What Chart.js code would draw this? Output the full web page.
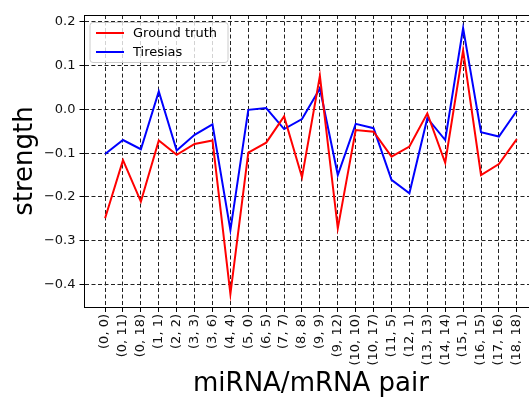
<!DOCTYPE html>
<html>
<head>
<meta charset="utf-8">
<script src="https://cdn.jsdelivr.net/npm/chart.js@4/dist/chart.umd.min.js"></script>
<style>
  html, body { margin: 0; padding: 0; background: #fff; overflow: hidden; }
  #wrap { width: 529px; height: 401px; position: relative; overflow: hidden; }
  #inner { width: 545px; height: 401px; position: absolute; left: 0; top: 0; }
</style>
</head>
<body>
<div id="wrap"><div id="inner"><canvas id="lineChart"></canvas></div></div>
<script>
const pairs = ['(0, 0)', '(0, 11)', '(0, 18)', '(1, 1)', '(2, 2)', '(3, 3)', '(3, 6)', '(4, 4)',
  '(5, 0)', '(6, 5)', '(7, 7)', '(8, 8)', '(9, 9)', '(9, 12)', '(10, 10)', '(10, 17)',
  '(11, 5)', '(12, 1)', '(13, 13)', '(14, 14)', '(15, 1)', '(16, 15)', '(17, 16)', '(18, 18)'];

const groundTruth = [-0.249, -0.116, -0.211, -0.071, -0.104, -0.079, -0.071, -0.422,
  -0.099, -0.076, -0.016, -0.155, 0.077, -0.272, -0.047, -0.051,
  -0.108, -0.085, -0.009, -0.122, 0.135, -0.150, -0.125, -0.068];

const tiresias = [-0.102, -0.070, -0.091, 0.041, -0.094, -0.058, -0.034, -0.276,
  -0.001, 0.003, -0.045, -0.022, 0.048, -0.150, -0.033, -0.043,
  -0.161, -0.192, -0.020, -0.070, 0.186, -0.052, -0.062, -0.003];

const yTicks = [-0.4, -0.3, -0.2, -0.1, 0.0, 0.1, 0.2];

const FONT = "'DejaVu Sans', sans-serif";

function toPoints(values) {
  return values.map((v, i) => ({ x: i, y: v }));
}

function fmtTick(v) {
  return (v < 0 ? '\u2212' : '') + Math.abs(v).toFixed(1);
}

// top spine, matplotlib style
const topSpine = {
  id: 'topSpine',
  afterDraw(chart) {
    const { ctx, chartArea } = chart;
    ctx.save();
    ctx.strokeStyle = '#000';
    ctx.lineWidth = 1;
    ctx.beginPath();
    ctx.moveTo(chartArea.left, chartArea.top + 0.5);
    ctx.lineTo(chartArea.right, chartArea.top + 0.5);
    ctx.stroke();
    ctx.restore();
  }
};

// legend box inside the plot, upper left
const innerLegend = {
  id: 'innerLegend',
  afterDraw(chart) {
    const { ctx, chartArea } = chart;
    const x = chartArea.left + 5.5;
    const y = chartArea.top + 7.5;
    const w = 138;
    const h = 40;
    ctx.save();
    ctx.fillStyle = 'rgba(255,255,255,0.8)';
    ctx.strokeStyle = '#ccc';
    ctx.lineWidth = 1;
    ctx.beginPath();
    ctx.roundRect(x, y, w, h, 3);
    ctx.fill();
    ctx.stroke();

    ctx.font = '13px ' + FONT;
    ctx.textBaseline = 'middle';
    chart.data.datasets.forEach((ds, i) => {
      const rowY = y + 10.5 + i * 19;
      ctx.strokeStyle = ds.borderColor;
      ctx.lineWidth = 2;
      ctx.beginPath();
      ctx.moveTo(x + 6, rowY);
      ctx.lineTo(x + 34, rowY);
      ctx.stroke();
      ctx.fillStyle = '#000';
      ctx.fillText(ds.label, x + 43, rowY + 0.5);
    });
    ctx.restore();
  }
};

const ctx = document.getElementById('lineChart').getContext('2d');

new Chart(ctx, {
  type: 'line',
  data: {
    datasets: [
      {
        label: 'Ground truth',
        data: toPoints(groundTruth),
        borderColor: '#ff0000',
        borderWidth: 2,
        pointRadius: 0,
        tension: 0,
        fill: false
      },
      {
        label: 'Tiresias',
        data: toPoints(tiresias),
        borderColor: '#0000ff',
        borderWidth: 2,
        pointRadius: 0,
        tension: 0,
        fill: false
      }
    ]
  },
  options: {
    responsive: true,
    maintainAspectRatio: false,
    animation: false,
    layout: { padding: { top: 15, left: 0, right: 7.6, bottom: 0 } },
    plugins: {
      legend: { display: false },
      tooltip: { enabled: false }
    },
    scales: {
      x: {
        type: 'linear',
        min: -1.15,
        max: 24.15,
        afterBuildTicks: axis => { axis.ticks = pairs.map((_, i) => ({ value: i })); },
        afterFit: scale => {
          scale.height = 94;
          scale.paddingLeft = 0;
          scale.paddingRight = 0;
        },
        ticks: {
          autoSkip: false,
          minRotation: 90,
          maxRotation: 90,
          padding: 2,
          color: '#111',
          font: { family: FONT, size: 13 },
          callback: (v, i) => pairs[i]
        },
        grid: {
          color: '#222',
          lineWidth: 1,
          tickLength: 5,
          tickColor: '#000'
        },
        border: { display: true, color: '#000', width: 1, dash: [4, 2.5] },
        title: {
          display: true,
          text: 'miRNA/mRNA pair',
          color: '#000',
          font: { family: FONT, size: 26 },
          padding: { top: 0, bottom: 1 }
        }
      },
      y: {
        min: -0.452,
        max: 0.216,
        afterBuildTicks: axis => { axis.ticks = yTicks.map(v => ({ value: v })); },
        afterFit: scale => {
          scale.width = 84.5;
          scale.paddingTop = 0;
          scale.paddingBottom = 0;
        },
        ticks: {
          padding: 4,
          color: '#111',
          font: { family: FONT, size: 13 },
          callback: v => fmtTick(v)
        },
        grid: {
          color: '#222',
          lineWidth: 1,
          tickLength: 5,
          tickColor: '#000'
        },
        border: { display: true, color: '#000', width: 1, dash: [4, 2.5] },
        title: {
          display: true,
          text: 'strength',
          color: '#000',
          font: { family: FONT, size: 26 },
          padding: { top: 10, bottom: 0 }
        }
      }
    }
  },
  plugins: [topSpine, innerLegend]
});
</script>
</body>
</html>
